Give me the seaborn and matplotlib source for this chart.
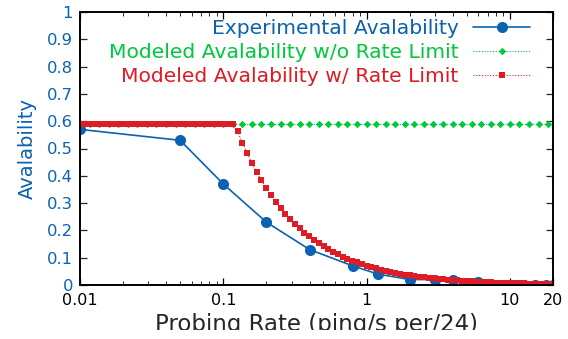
import matplotlib
matplotlib.use("Agg")
import matplotlib.pyplot as plt
from matplotlib.ticker import FixedLocator, FixedFormatter, LogLocator, NullFormatter
from matplotlib.transforms import Bbox, TransformedBbox
import seaborn as sns
import pandas as pd

# Measured availability per probing rate
exp_rate = [0.01, 0.05, 0.1, 0.2, 0.4, 0.8, 1.2, 2, 3, 4, 6, 8, 10, 12.5, 15, 18, 20]
exp_avail = [0.57, 0.53, 0.37, 0.23, 0.13, 0.07, 0.04, 0.02, 0.02, 0.02, 0.01,
             0.0, 0.0, 0.0, 0.0, 0.0, 0.0]

# Model evaluation grid (30 points per decade)
model_rate = [
    0.01, 0.010798, 0.011659, 0.012589, 0.013594, 0.014678, 0.015849, 0.017113,
    0.018478, 0.019953, 0.021544, 0.023263, 0.025119, 0.027123, 0.029286,
    0.031623, 0.034145, 0.036869, 0.039811, 0.042987, 0.046416, 0.050119,
    0.054117, 0.058434, 0.063096, 0.068129, 0.073564, 0.079433, 0.08577, 0.092612,
    0.1, 0.10798, 0.11659, 0.12589, 0.13594, 0.14678, 0.15849, 0.17113,
    0.18478, 0.19953, 0.21544, 0.23263, 0.25119, 0.27123, 0.29286,
    0.31623, 0.34145, 0.36869, 0.39811, 0.42987, 0.46416, 0.50119,
    0.54117, 0.58434, 0.63096, 0.68129, 0.73564, 0.79433, 0.8577, 0.92612,
    1.0, 1.0798, 1.1659, 1.2589, 1.3594, 1.4678, 1.5849, 1.7113,
    1.8478, 1.9953, 2.1544, 2.3263, 2.5119, 2.7123, 2.9286,
    3.1623, 3.4145, 3.6869, 3.9811, 4.2987, 4.6416, 5.0119,
    5.4117, 5.8434, 6.3096, 6.8129, 7.3564, 7.9433, 8.577, 9.2612,
    10.0, 10.798, 11.659, 12.589, 13.594, 14.678, 15.849, 17.113, 18.478, 19.953,
]

# Modeled availability with the rate limit applied
model_limited = [
    0.59, 0.59, 0.59, 0.59, 0.59, 0.59, 0.59, 0.59, 0.59, 0.59,
    0.59, 0.59, 0.59, 0.59, 0.59, 0.59, 0.59, 0.59, 0.59, 0.59,
    0.59, 0.59, 0.59, 0.59, 0.59, 0.59, 0.59, 0.59, 0.59, 0.59,
    0.59, 0.59, 0.59, 0.5624, 0.5208, 0.4824, 0.4467, 0.4137, 0.3832, 0.3548,
    0.3286, 0.3043, 0.2819, 0.2610, 0.2418, 0.2239, 0.2074, 0.1920, 0.1778, 0.1647,
    0.1525, 0.1413, 0.1308, 0.1212, 0.1122, 0.1039, 0.0962, 0.0891, 0.0825, 0.0764,
    0.0708, 0.0656, 0.0607, 0.0562, 0.0521, 0.0482, 0.0447, 0.0414, 0.0383, 0.0355,
    0.0329, 0.0304, 0.0282, 0.0261, 0.0242, 0.0224, 0.0207, 0.0192, 0.0178, 0.0165,
    0.0153, 0.0141, 0.0131, 0.0121, 0.0112, 0.0104, 0.0096, 0.0089, 0.0083, 0.0076,
    0.0071, 0.0066, 0.0061, 0.0056, 0.0052, 0.0048, 0.0045, 0.0041, 0.0038, 0.0035,
]

# Modeled availability without a rate limit (every other grid point)
free_rate = model_rate[::2]
free_avail = [0.59] * len(free_rate)

y_ticks = [0, 0.1, 0.2, 0.3, 0.4, 0.5, 0.6, 0.7, 0.8, 0.9, 1]
y_tick_labels = ["0", "0.1", "0.2", "0.3", "0.4", "0.5", "0.6", "0.7", "0.8", "0.9", "1"]
x_ticks = [0.01, 0.1, 1, 10, 20]
x_tick_labels = ["0.01", "0.1", "1", "10", "20"]

BLUE = "#0a62b0"
GREEN = "#00c83c"
RED = "#dd1c25"

sns.set_style("ticks")
plt.rcParams["font.family"] = ["DejaVu Sans"]

W, H = 568, 339
fig = plt.figure(figsize=(W / 100, H / 100), dpi=100)
ax = fig.add_axes([80 / W, (H - 285) / H, 473 / W, 273 / H])

df_exp = pd.DataFrame({"rate": exp_rate, "avail": exp_avail})
df_free = pd.DataFrame({"rate": free_rate, "avail": free_avail})
df_lim = pd.DataFrame({"rate": model_rate, "avail": model_limited})

sns.lineplot(data=df_exp, x="rate", y="avail", ax=ax, color=BLUE, lw=1.2,
             marker="o", markersize=8, markeredgewidth=0,
             label="Experimental Avalability")
sns.lineplot(data=df_free, x="rate", y="avail", ax=ax, color=GREEN, lw=0.8,
             linestyle=(0, (1, 1.5)), marker="D", markersize=3.2, markeredgewidth=0.6,
             markeredgecolor=GREEN, label="Modeled Avalability w/o Rate Limit")
sns.lineplot(data=df_lim, x="rate", y="avail", ax=ax, color=RED, lw=0.8,
             linestyle=(0, (1, 1.5)), marker="s", markersize=4.6, markeredgewidth=0,
             label="Modeled Avalability w/ Rate Limit")

ax.set_xscale("log")
ax.set_xlim(0.01, 20)
ax.set_ylim(0, 1)

ax.xaxis.set_major_locator(FixedLocator(x_ticks))
ax.xaxis.set_major_formatter(FixedFormatter(x_tick_labels))
ax.xaxis.set_minor_locator(LogLocator(base=10, subs=range(2, 10), numticks=20))
ax.xaxis.set_minor_formatter(NullFormatter())
ax.yaxis.set_major_locator(FixedLocator(y_ticks))
ax.yaxis.set_major_formatter(FixedFormatter(y_tick_labels))

ax.tick_params(axis="both", which="both", direction="in", top=True, right=True)
ax.tick_params(axis="both", which="major", length=5, width=0.9)
ax.tick_params(axis="both", which="minor", length=3, width=0.7)
ax.tick_params(axis="x", labelsize=11.5, colors="black", pad=6)
ax.tick_params(axis="y", labelsize=11.8, labelcolor=BLUE, pad=5)

for sp in ax.spines.values():
    sp.set_linewidth(1.4)
    sp.set_color("black")

ax.set_ylabel("Avalability", color=BLUE, fontsize=14, labelpad=7)
ax.set_xlabel("Probing Rate (ping/s per/24)", fontsize=16.5, labelpad=3)
# the axis title is cut at the lower edge of the drawing area
xl = ax.xaxis.label
xl.set_clip_box(TransformedBbox(Bbox([[0, 9 / H], [1, 1]]), fig.transFigure))
xl.set_clip_on(True)

fs_leg = 14.6
leg = ax.legend(loc="upper right", bbox_to_anchor=(450 / 473, 1 - 7 / 273),
                frameon=False, markerfirst=False, fontsize=fs_leg,
                handlelength=2.8, labelspacing=0.24, handletextpad=0.72,
                borderaxespad=0, borderpad=0)
for txt, col in zip(leg.get_texts(), [BLUE, GREEN, RED]):
    txt.set_color(col)
# right-align the legend labels against the handles
for hp in leg.get_children()[0].get_children()[1].get_children():
    hp.align = "right"

fig.savefig("out.png", dpi=100)
